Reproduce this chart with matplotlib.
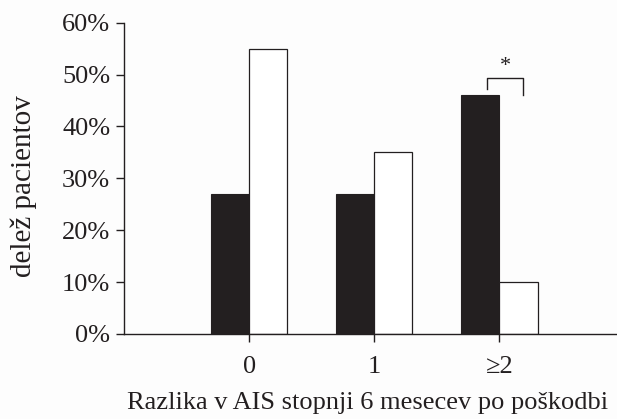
import matplotlib
matplotlib.use("Agg")
import matplotlib.pyplot as plt
from matplotlib.ticker import FuncFormatter

categories = ["0", "1", "≥2"]
series_black = [27, 27, 46]
series_white = [55, 35, 10]
y_ticks = [0, 10, 20, 30, 40, 50, 60]
sig_label = "*"

plt.rcParams['font.family'] = ['Liberation Serif', 'DejaVu Serif']
ink = '#231f20'

fig = plt.figure(figsize=(6.17, 4.19), dpi=100)
fig.patch.set_facecolor('#fdfdfd')
ax = fig.add_axes([0.201, 0.203, 0.799, 0.743])
ax.set_facecolor('#fdfdfd')

x = list(range(len(categories)))
w = 0.305
ax.bar([i - w / 2 for i in x], series_black, width=w, color=ink, edgecolor=ink, linewidth=0.8)
ax.bar([i + w / 2 for i in x], series_white, width=w, color='white', edgecolor=ink, linewidth=0.9)

ax.set_xlim(-1.0, 2.94)
ax.set_ylim(0, 60)
ax.set_yticks(y_ticks)
ax.yaxis.set_major_formatter(FuncFormatter(lambda v, p: f"{int(v)}%"))
ax.set_xticks(x)
ax.set_xticklabels(categories)

for s in ['top', 'right']:
    ax.spines[s].set_visible(False)
for s in ['left', 'bottom']:
    ax.spines[s].set_color(ink)
    ax.spines[s].set_linewidth(1.0)

ax.tick_params(axis='both', colors=ink, length=6, width=1.0, labelsize=19)
ax.tick_params(axis='y', pad=4)
ax.tick_params(axis='x', pad=10)

ax.set_ylabel("delež pacientov", fontsize=21, color=ink)
ax.yaxis.set_label_coords(-0.176, 0.475)
ax.set_xlabel("Razlika v AIS stopnji 6 mesecev po poškodbi", fontsize=19, color=ink)
ax.xaxis.set_label_coords(0.494, -0.188)

# significance bracket between bars of the last group
gi = 2
xl = gi - w / 2 + 0.05
xr = gi + w / 2 + 0.04
ytop = series_black[gi] + 3.4
ax.plot([xl, xl, xr, xr], [series_black[gi] + 1.2, ytop, ytop, ytop - 3.3],
        color=ink, linewidth=1.0, clip_on=False)
ax.text((xl + xr) / 2, ytop + 0.3, sig_label, ha='center', va='bottom', fontsize=16, color=ink)

fig.savefig("out.png", dpi=100, facecolor=fig.get_facecolor())
